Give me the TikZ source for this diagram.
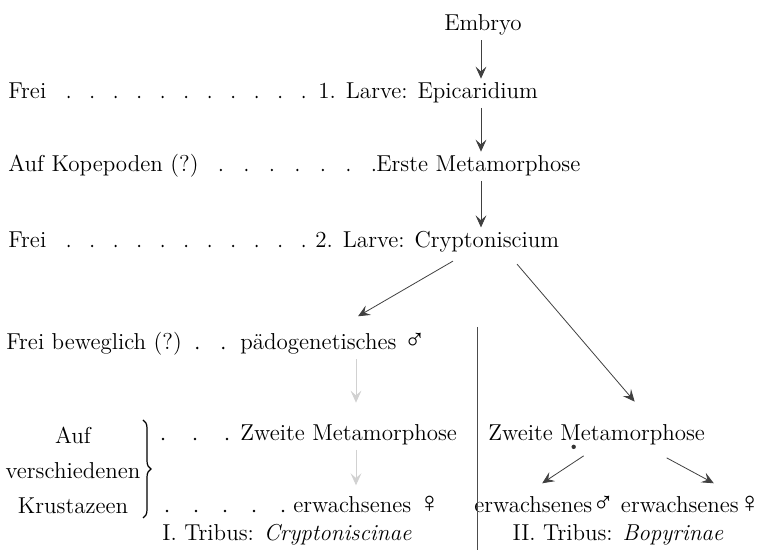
\documentclass[tikz,border=0pt]{standalone}
\usepackage{fontspec}
\usepackage{tikz}
\usetikzlibrary{arrows.meta,positioning,calc,decorations.pathreplacing}
\newfontfamily\symbolfont{Liberation Serif}
\newcommand{\maleSym}{{\symbolfont\fontsize{14.5}{14.5}\selectfont ♂}}
\newcommand{\femaleSym}{{\symbolfont\fontsize{14.5}{14.5}\selectfont ♀}}

\begin{document}
\begin{tikzpicture}[
    x=0.5pt, y=-0.5pt,
    every node/.style={inner xsep=0pt, inner ysep=2pt, font=\fontsize{11.5}{17.5}\selectfont},
    habitat/.style={anchor=base west},
    stage/.style={anchor=base west},
    tribus/.style={anchor=base},
    leader/.style={line width=1.3pt, line cap=round, dash pattern=on 0pt off #1},
    leader/.default=12pt,
    arrow/.style={-{Stealth[length=6pt, width=5.4pt, inset=2.4pt]}, black!75, line width=0.4pt},
    faintarrow/.style={arrow, black!18},
    brace/.style={decorate, decoration={brace, amplitude=4pt}, line width=0.6pt}
]
\useasboundingbox (0,0) rectangle (768,550);

% Stages
\node[anchor=base] (embryo) at (483,31) {Embryo};
\node[stage] (larve1) at (318,99) {1. Larve: Epicaridium};
\node[stage] (meta1) at (376,172) {Erste Metamorphose};
\node[stage] (larve2) at (315,248) {2. Larve: Cryptoniscium};
\node[stage] (paedo) at (240,350) {pädogenetisches \maleSym};
\node[stage] (meta2l) at (240,441) {Zweite Metamorphose};
\node[stage] (adult-f1) at (293,513) {erwachsenes \femaleSym};
\node[stage] (meta2r) at (488,441) {Zweite Metamorphose};
\node[stage] (adult-m2) at (474,513) {erwachsenes\maleSym};
\node[anchor=base east] (adult-f2) at (761,513) {erwachsenes\femaleSym};

% Habitats
\node[habitat] (frei1) at (8,99) {Frei};
\node[habitat] (kope) at (8,172) {Auf Kopepoden (?)};
\node[habitat] (frei2) at (8,248) {Frei};
\node[habitat] (frei3) at (6,350) {Frei beweglich (?)};
\node[align=center] (hosts) at (73,470) {Auf\\verschiedenen\\Krustazeen};
\draw[brace] (143,420) coordinate (brace-top) -- (143,518) coordinate (brace-bot);

% Tribus
\node[tribus] (tribus1) at (287,541) {I. Tribus: \textit{Cryptoniscinae}};
\node[tribus] (tribus2) at (618,541) {II. Tribus: \textit{Bopyrinae}};

% Dot leaders
\coordinate (lead5) at (163,441);
\coordinate (lead6) at (167,513);
\draw[leader=11.75pt, shorten <=11pt, shorten >=1pt] ([yshift=1pt]frei1.base east) -- ([yshift=1pt]larve1.base west);
\draw[leader=12.75pt, shorten <=11pt, shorten >=1pt] ([yshift=1pt]kope.base east) -- ([yshift=1pt]meta1.base west);
\draw[leader=11.75pt, shorten <=11pt, shorten >=1pt] ([yshift=1pt]frei2.base east) -- ([yshift=1pt]larve2.base west);
\draw[leader=13pt, shorten <=7.5pt, shorten >=1pt] ([yshift=1pt]frei3.base east) -- ([yshift=1pt]paedo.base west);
\draw[leader=16pt, shorten >=1pt] ([yshift=1pt]lead5) -- ([yshift=1pt]meta2l.base west);
\draw[leader=14.5pt, shorten >=1pt] ([yshift=1pt]lead6) -- ([yshift=1pt]adult-f1.base west);

% Development arrows
\coordinate (axis) at (481,0);
\draw[arrow] (axis |- embryo.south) -- (axis |- larve1.north);
\draw[arrow] (axis |- larve1.south) -- (axis |- meta1.north);
\draw[arrow] (axis |- meta1.south) -- (axis |- larve2.north);
\draw[arrow] ($(axis |- larve2.south)+(-28,4)$) -- ($(paedo.north)+(25,-13)$);
\draw[arrow] ($(axis |- larve2.south)+(36,7)$) -- ($(meta2r.north)+(38,-19)$);

% Right branch
\fill[black!80] ($(meta2r.south)+(-23,-3)$) circle (1.1pt);
\draw[arrow] ($(meta2r.south)+(-13,6)$) -- ($(adult-m2.north)+(-2,-9)$);
\draw[arrow] ($(meta2r.south)+(70,8)$) -- ($(adult-f2.north)+(23,-9)$);

% Left branch (faint)
\coordinate (faint) at (356,0);
\draw[faintarrow, shorten >=9pt] (faint |- paedo.south) -- (faint |- meta2l.north);
\draw[faintarrow, shorten >=3.5pt] (faint |- meta2l.south) -- (faint |- adult-f1.north);

% Divider
\draw[black!70, line width=0.5pt] (477,327) coordinate (divider-top) -- (477,550) coordinate (divider-bot);

\end{tikzpicture}
\end{document}
